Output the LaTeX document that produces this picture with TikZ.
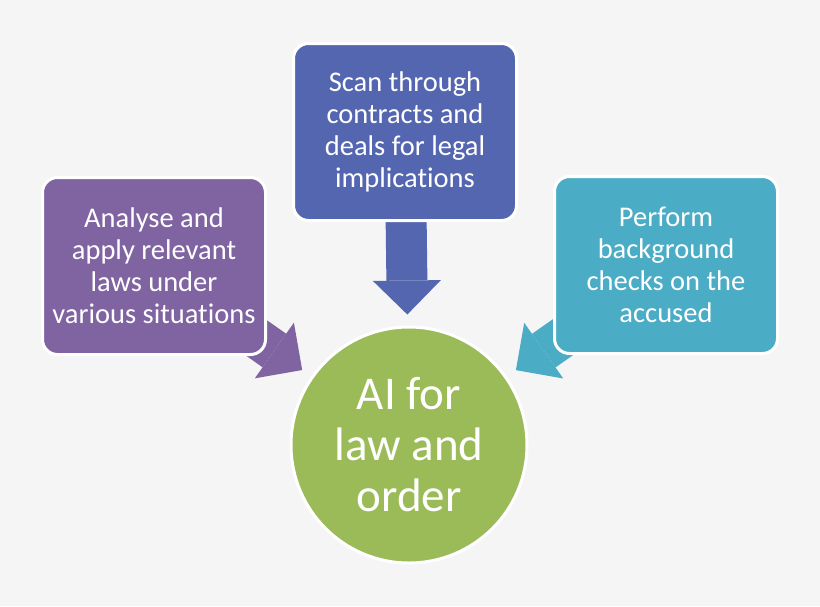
\documentclass[tikz,border=0pt]{standalone}
\usepackage{fontspec}
\setmainfont{Carlito}[Ligatures={NoCommon,NoRare}]
\usetikzlibrary{arrows.meta,positioning,backgrounds}

\definecolor{bgcol}{RGB}{245,245,245}
\definecolor{lawcol}{RGB}{128,100,162}
\definecolor{scancol}{RGB}{85,102,177}
\definecolor{checkcol}{RGB}{75,172,198}
\definecolor{aicol}{RGB}{155,187,89}

\begin{document}
\begin{tikzpicture}[x=1pt,y=1pt,on grid,
    task/.style={rectangle,rounded corners=15pt,draw=white,line width=3pt,fill=#1,
      text=white,minimum width=223pt,minimum height=177pt,align=center,
      font=\fontsize{28.5}{32}\selectfont},
    hub/.style={circle,draw=white,line width=3pt,fill=aicol,text=white,
      minimum size=236pt,align=center,font=\fontsize{47}{51}\selectfont},
    feed/.style={draw=#1,line width=41pt,shorten >=11pt,
      -{Triangle[length=34pt,width=68pt,line width=0pt]}}]
        \node[hub]  (ai) at (409,-445)  {AI for\\law and\\order};

        \node[task=lawcol]   (laws)   [above left=179pt and 255pt of ai]  {Analyse and\\apply relevant\\laws under\\various situations};
        \node[task=scancol]  (scan)   [above left=313pt and 4pt of ai]    {Scan through\\contracts and\\deals for legal\\implications};
        \node[task=checkcol] (checks) [above right=180pt and 257pt of ai] {Perform\\background\\checks on the\\accused};

        \begin{scope}[on background layer]
            \fill[bgcol] (0,0) rectangle (820,-606);
            \path[]
                (laws.center)   edge[feed=lawcol]   (ai)
                (scan.center)   edge[feed=scancol]  (ai)
                (checks.center) edge[feed=checkcol] (ai)
                ;
        \end{scope}
\end{tikzpicture}
\end{document}
